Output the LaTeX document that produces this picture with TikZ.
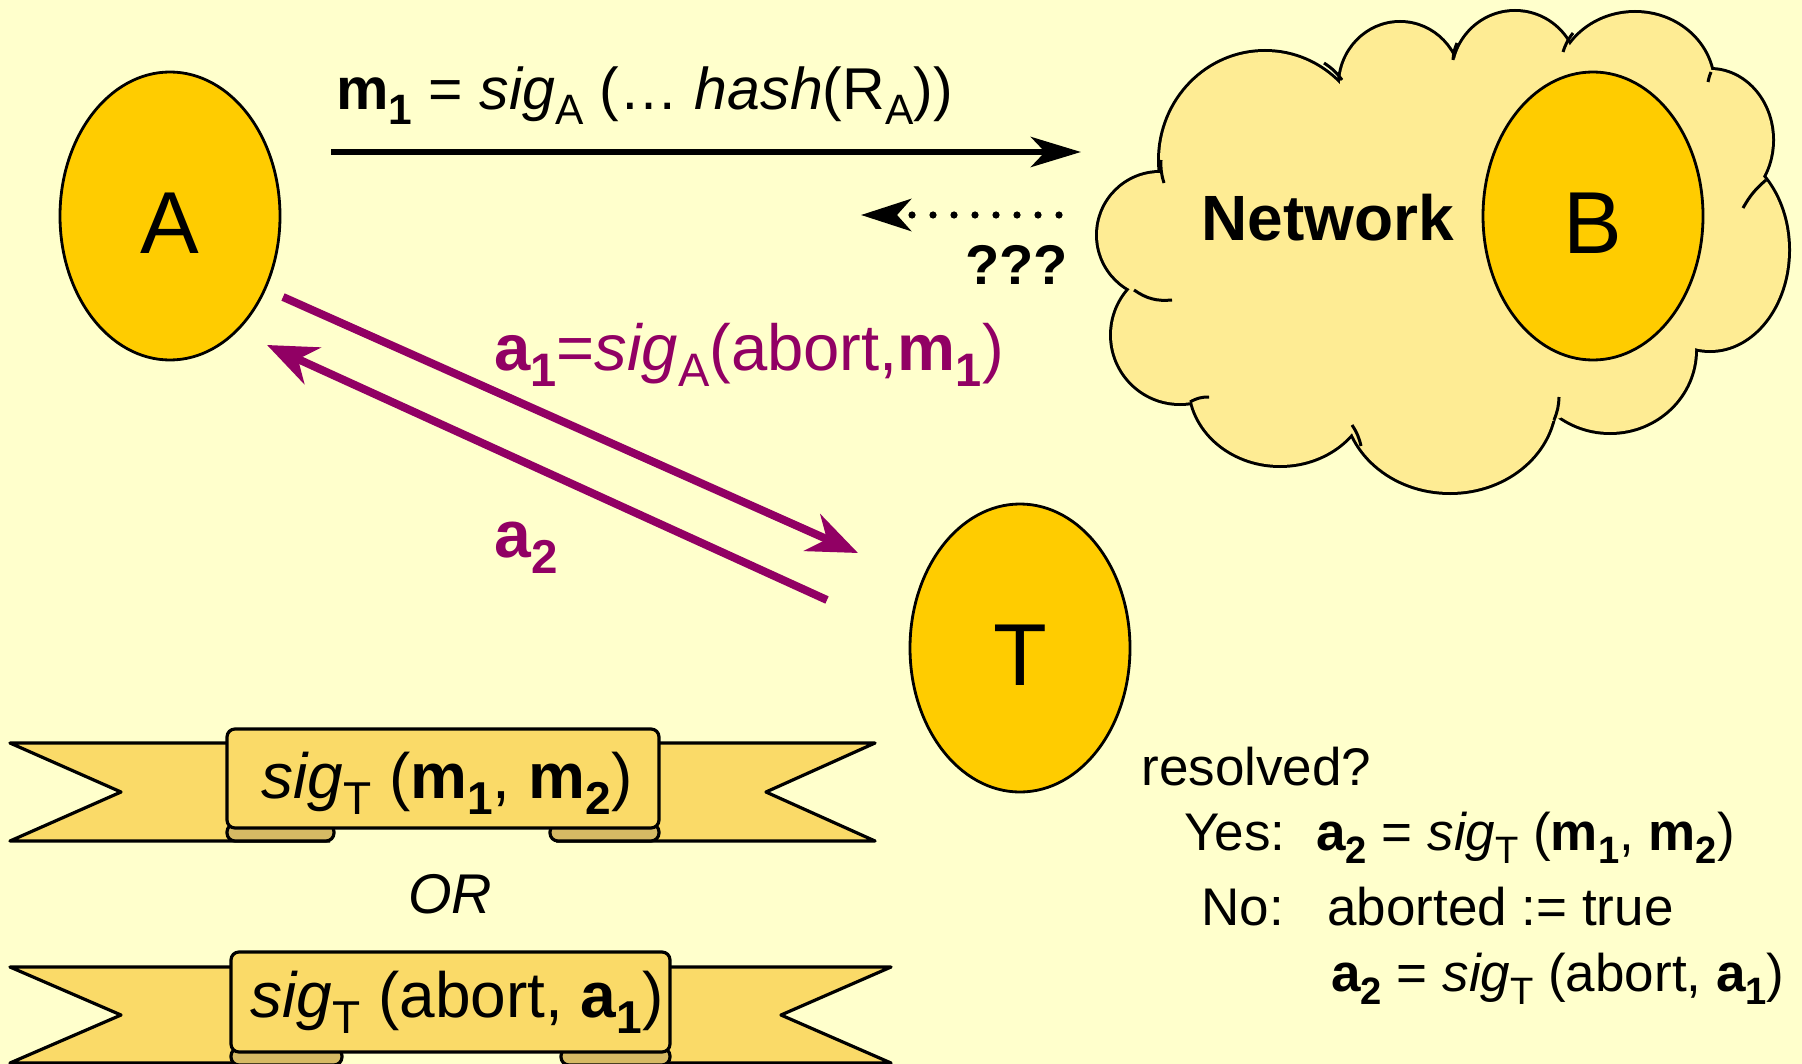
\documentclass[tikz,border=0pt]{standalone}
\usepackage{fontspec}
\setmainfont{Liberation Sans}
\usepackage{graphicx}
\usetikzlibrary{shapes.geometric,arrows.meta}
\definecolor{bg}{RGB}{255,255,204}
\definecolor{gold}{RGB}{255,204,0}
\definecolor{cloudfill}{RGB}{254,236,148}
\definecolor{banfill}{RGB}{250,218,104}
\definecolor{rollfill}{RGB}{214,186,100}
\definecolor{plum}{RGB}{145,0,100}
\newcommand{\sbs}[1]{\raisebox{-0.25em}{\scalebox{0.72}{#1}}}
\newcommand{\fsz}[1]{\fontsize{#1}{#1}\selectfont}
\begin{document}
\begin{tikzpicture}[x=0.5pt,y=-0.5pt,
  party/.style={ellipse, draw, line width=1.4pt, fill=gold, inner sep=0pt,
    minimum width=110pt, minimum height=144pt, font=\fsz{44},
    text height=37.5pt, text depth=0pt},
  msgarrow/.style={line width=3.4pt, -{Stealth[length=25pt,width=15pt,inset=7pt]}},
  plumarrow/.style={plum, line width=4pt, -{Stealth[length=25pt,width=20pt,inset=8pt]}},
  lab/.style={anchor=base west, inner sep=0pt},
  banline/.style={line width=1.6pt, line join=round},
  cloudtail/.style={line width=1.5pt},
]
\fill[bg] (0,0) rectangle (1802,1064);
\useasboundingbox (0,0) rectangle (1802,1064);
\clip (0,0) rectangle (1802,1064);

% cloud
\foreach \cx/\cy/\rx/\ry in {1160/235/62/62, 1180/335/68/68, 1280/385/90/80,
  1450/400/105/92, 1610/350/85/82, 1710/250/78/100, 1710/140/62/70,
  1635/85/78/72, 1515/75/62/63, 1400/85/60/62, 1265/160/105/108}
  \draw[line width=3pt] (\cx,\cy) ellipse [x radius=\rx, y radius=\ry];
\foreach \cx/\cy/\rx/\ry in {1160/235/62/62, 1180/335/68/68, 1280/385/90/80,
  1450/400/105/92, 1610/350/85/82, 1710/250/78/100, 1710/140/62/70,
  1635/85/78/72, 1515/75/62/63, 1400/85/60/62, 1265/160/105/108, 1440/260/250/180}
  \fill[cloudfill] (\cx,\cy) ellipse [x radius=\rx, y radius=\ry];
% small inner curls of the cloud
\draw[cloudtail] (1161,160) to[bend right=10] (1164,183);
\draw[cloudtail] (1134,290) to[bend right=20] (1172,300);
\draw[cloudtail] (1190,402) to[bend left=15] (1209,397);
\draw[cloudtail] (1352,425) to[bend left=10] (1361,446);
\draw[cloudtail] (1559,397) to[bend left=10] (1554,420);
\draw[cloudtail] (1766,180) to[bend right=10] (1743,208);
\draw[cloudtail] (1711,72) to[bend right=5] (1708,82);
\draw[cloudtail] (1573,33) to[bend right=10] (1563,52);
\draw[cloudtail] (1457,43) to[bend right=10] (1453,60);
\draw[cloudtail] (1324,63) to[bend left=10] (1342,80);
\node[lab, font=\fsz{32}\bfseries] (net) at (1201,241) {Network};

% parties
\node[party] (A) at (170,216) {A};
\node[party] (B) at (1593,216) {B};
\node[party] (T) at (1020,648) {T};

% messages
\coordinate (m1s) at (331,152);
\coordinate (m1e) at (1081,152);
\draw[msgarrow] (m1s) -- (m1e);
\node[lab, font=\fsz{29.5}] (m1lab) at (336,110)
  {\textbf{m\sbs{1}} = \textit{sig}\sbs{A} (… \textit{hash}(R\sbs{A}))};

\coordinate (qs) at (1059,215);
\coordinate (qe) at (861,215);
\draw[line width=3.6pt, line cap=round, dash pattern=on 0pt off 10.5pt,
  -{Stealth[length=25pt,width=16pt,inset=7pt]}] (qs) -- (qe);
\node[lab, font=\fsz{28}\bfseries] (qq) at (965,285) {???};

\coordinate (a1s) at (283,297);
\coordinate (a1e) at (858,553);
\coordinate (a2s) at (827,600);
\coordinate (a2e) at (267,345);
\draw[plumarrow] (a1s) -- (a1e);
\draw[plumarrow] (a2s) -- (a2e);
\node[lab, plum, font=\fsz{32.6}] (a1lab) at (494,370)
  {\textbf{a\sbs{1}}=\textit{sig}\sbs{A}(abort,\textbf{m\sbs{1}})};
\node[lab, plum, font=\fsz{33}] (a2lab) at (494,557) {\textbf{a\sbs{2}}};

% resolution text
\node[lab, font=\fsz{26.5}] (res) at (1141,785) {resolved?};
\node[lab, font=\fsz{26.5}] (yes) at (1184,850) {Yes:};
\node[lab, font=\fsz{26.5}] (yesf) at (1316,850)
  {\textbf{a\sbs{2}} = \textit{sig}\sbs{T} (\textbf{m\sbs{1}}, \textbf{m\sbs{2}})};
\node[lab, font=\fsz{26.5}] (no) at (1201,925) {No:};
\node[lab, font=\fsz{26.5}] (nof) at (1327,925) {aborted := true};
\node[lab, font=\fsz{26.5}] (nof2) at (1331,991)
  {\textbf{a\sbs{2}} = \textit{sig}\sbs{T} (abort, \textbf{a\sbs{1}})};

% banner 1
\fill[banfill] (10,743) -- (121,792) -- (10,841) -- (330,841) -- (300,743) -- cycle;
\draw[banline] (300,743) -- (10,743) -- (121,792) -- (10,841) -- (330,841);
\fill[banfill] (586,743) -- (875,743) -- (766,792) -- (875,841) -- (556,841) -- cycle;
\draw[banline] (586,743) -- (875,743) -- (766,792) -- (875,841) -- (556,841);
\filldraw[banline, fill=rollfill, rounded corners=4pt] (227,824) rectangle (334,841);
\filldraw[banline, fill=rollfill, rounded corners=4pt] (550,824) rectangle (659,841);
\filldraw[banline, fill=banfill, rounded corners=4pt] (227,729) rectangle (659,828);
\node[lab, font=\fsz{32}] (ban1) at (261,798)
  {\textit{sig}\sbs{T} (\textbf{m\sbs{1}}, \textbf{m\sbs{2}})};

\node[lab, font=\fsz{28}\itshape] (or) at (408,913) {OR};

% banner 2
\fill[banfill] (10,967) -- (121,1015) -- (10,1063) -- (338,1063) -- (300,967) -- cycle;
\draw[banline] (300,967) -- (10,967) -- (121,1015) -- (10,1063) -- (338,1063);
\fill[banfill] (600,967) -- (891,967) -- (781,1015) -- (891,1063) -- (565,1063) -- cycle;
\draw[banline] (600,967) -- (891,967) -- (781,1015) -- (891,1063) -- (565,1063);
\filldraw[banline, fill=rollfill, rounded corners=4pt] (231,1048) rectangle (342,1065);
\filldraw[banline, fill=rollfill, rounded corners=4pt] (561,1048) rectangle (670,1065);
\filldraw[banline, fill=banfill, rounded corners=4pt] (231,952) rectangle (670,1052);
\node[lab, font=\fsz{32}] (ban2) at (250,1017)
  {\textit{sig}\sbs{T} (abort, \textbf{a\sbs{1}})};
\end{tikzpicture}
\end{document}
